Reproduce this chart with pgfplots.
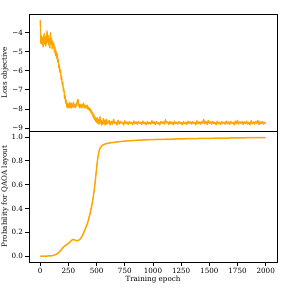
\documentclass[border=0pt]{standalone}
\usepackage{pgfplots}
\pgfplotsset{compat=1.18}
\usepackage{fontspec}
\setmainfont{DejaVu Serif}
\definecolor{mplorange}{HTML}{FFA500}
\begin{document}
\fontsize{7}{8.4}\selectfont
\begin{tikzpicture}
\path[use as bounding box] (-29bp,-29bp) rectangle (262bp,262bp);
\pgfplotsset{
  every axis/.append style={
    scale only axis, width=248bp,
    xmin=-100, xmax=2100,
    axis line style={line width=0.7pt},
    tick style={line width=0.7pt, black},
    major tick length=3.5bp,
    tick align=outside,
    xtick pos=bottom, ytick pos=left,
    /pgf/number format/assume math mode=true,
    tick label style={font=\fontsize{7.2}{8.6}\selectfont},
    label style={font=\fontsize{7.2}{8.6}\selectfont},
  }
}
% top axis
\begin{axis}[
  at={(0,131bp)}, anchor=south west,
  height=116.4bp,
  ymin=-9.16, ymax=-3.05,
  xtick=\empty,
  ytick={-9,-8,-7,-6,-5,-4},
  yticklabels={−9,−8,−7,−6,−5,−4},
  ylabel={Loss objective},
  ylabel style={at={(axis description cs:0,0.5)}, anchor=south, yshift=18bp},
]
\addplot[mplorange, line width=1.3pt, line join=round] coordinates {
(0,-3.33)(2,-3.9)(5,-4.55)(10,-4.15)(15,-4.6)(20,-4.25)(25,-4.75)(30,-4.3)(35,-4.05)(40,-4.6)
(45,-4.2)(50,-4.7)(55,-4.35)(60,-3.9)(65,-4.5)(70,-4.15)(75,-4.65)(80,-4.3)(85,-4.8)(90,-4.0)
(95,-4.55)(100,-4.3)(105,-4.85)(110,-4.45)(115,-4.7)(120,-4.55)(125,-5.0)(130,-4.75)(135,-5.2)(140,-4.95)
(145,-5.35)(150,-5.1)(155,-5.55)(160,-5.4)(165,-5.85)(170,-5.7)(175,-6.1)(180,-5.95)(185,-6.45)(190,-6.3)
(195,-6.75)(200,-6.6)(205,-7.05)(210,-6.95)(215,-7.45)(220,-7.3)(225,-7.7)(230,-7.55)(235,-7.9)(240,-7.7)
(245,-7.95)(250,-7.75)(255,-7.9)(260,-7.65)(265,-7.95)(270,-7.8)(275,-7.7)(280,-7.95)(285,-7.75)(290,-7.85)
(295,-7.65)(300,-7.9)(305,-7.8)(310,-7.95)(315,-7.75)(320,-7.85)(325,-7.7)(330,-7.55)(335,-7.5)(340,-7.85)
(345,-7.75)(350,-7.95)(355,-7.8)(360,-7.9)(365,-7.75)(370,-7.95)(375,-7.8)(380,-7.85)(385,-7.7)(390,-7.95)
(395,-7.8)(400,-7.9)(405,-7.85)(410,-7.95)(415,-7.8)(420,-8.0)(425,-7.9)(430,-8.05)(435,-7.95)(440,-8.1)
(445,-8.0)(450,-8.2)(455,-8.1)(460,-8.3)(465,-8.2)(470,-8.45)(475,-8.3)(480,-8.55)(485,-8.4)(490,-8.65)
(495,-8.5)(500,-8.7)(505,-8.45)(510,-8.75)(515,-8.55)(520,-8.8)(525,-8.6)(530,-8.4)(535,-8.75)(540,-8.6)
(545,-8.85)(550,-8.65)(555,-8.8)(560,-8.5)(565,-8.75)(570,-8.6)(575,-8.85)(580,-8.7)(585,-8.55)(590,-8.8)
(595,-8.65)(600,-8.75)(610,-8.6)(620,-8.85)(630,-8.65)(640,-8.8)(650,-8.55)(660,-8.75)(670,-8.7)(680,-8.85)
(690,-8.6)(700,-8.8)(710,-8.65)(720,-8.75)(730,-8.7)(740,-8.85)(750,-8.62)(760,-8.78)(770,-8.68)(780,-8.82)
(790,-8.66)(800,-8.76)(810,-8.7)(820,-8.84)(830,-8.64)(840,-8.78)(850,-8.68)(860,-8.8)(870,-8.66)(880,-8.76)
(890,-8.7)(900,-8.82)(910,-8.64)(920,-8.78)(930,-8.7)(940,-8.84)(950,-8.66)(960,-8.78)(970,-8.7)(980,-8.8)
(990,-8.62)(1000,-8.76)(1010,-8.68)(1020,-8.82)(1030,-8.66)(1040,-8.78)(1050,-8.72)(1060,-8.84)(1070,-8.66)(1080,-8.76)
(1090,-8.68)(1100,-8.8)(1110,-8.56)(1120,-8.74)(1130,-8.68)(1140,-8.82)(1150,-8.66)(1160,-8.78)(1170,-8.7)(1180,-8.84)
(1190,-8.64)(1200,-8.78)(1210,-8.7)(1220,-8.8)(1230,-8.66)(1240,-8.76)(1250,-8.7)(1260,-8.84)(1270,-8.66)(1280,-8.78)
(1290,-8.7)(1300,-8.82)(1310,-8.64)(1320,-8.76)(1330,-8.68)(1340,-8.8)(1350,-8.66)(1360,-8.78)(1370,-8.7)(1380,-8.84)
(1390,-8.62)(1400,-8.78)(1410,-8.68)(1420,-8.8)(1430,-8.66)(1440,-8.76)(1450,-8.55)(1460,-8.78)(1470,-8.66)(1480,-8.82)
(1490,-8.6)(1500,-8.76)(1510,-8.68)(1520,-8.8)(1530,-8.66)(1540,-8.78)(1550,-8.7)(1560,-8.84)(1570,-8.64)(1580,-8.78)
(1590,-8.7)(1600,-8.82)(1610,-8.66)(1620,-8.76)(1630,-8.7)(1640,-8.8)(1650,-8.64)(1660,-8.78)(1670,-8.68)(1680,-8.82)
(1690,-8.66)(1700,-8.76)(1710,-8.7)(1720,-8.84)(1730,-8.64)(1740,-8.78)(1750,-8.6)(1760,-8.8)(1770,-8.68)(1780,-8.76)
(1790,-8.66)(1800,-8.82)(1810,-8.68)(1820,-8.78)(1830,-8.64)(1840,-8.8)(1850,-8.7)(1860,-8.84)(1870,-8.62)(1880,-8.78)
(1890,-8.68)(1900,-8.8)(1910,-8.66)(1920,-8.76)(1930,-8.6)(1940,-8.82)(1950,-8.68)(1960,-8.78)(1970,-8.66)(1980,-8.8)
(1990,-8.7)(2000,-8.78)
};
\end{axis}
% bottom axis
\begin{axis}[
  at={(0,0)}, anchor=south west,
  height=131bp,
  ymin=-0.05, ymax=1.05,
  xtick={0,250,500,750,1000,1250,1500,1750,2000},
  xticklabels={0,250,500,750,1000,1250,1500,1750,2000},
  ytick={0,0.2,0.4,0.6,0.8,1.0},
  yticklabels={0.0,0.2,0.4,0.6,0.8,1.0},
  xlabel={Training epoch},
  ylabel={Probability for QAOA layout},
  ylabel style={at={(axis description cs:0,0.5)}, anchor=south, yshift=18bp},
  xlabel style={yshift=2bp},
]
\addplot[mplorange, line width=1.5pt, smooth, tension=0.4] coordinates {
(0,0.0)(50,0.0)(100,0.002)(130,0.01)(150,0.02)(175,0.04)(200,0.07)(225,0.09)(250,0.105)(270,0.125)
(290,0.14)(305,0.135)(325,0.128)(345,0.135)(360,0.15)(380,0.185)(400,0.23)(420,0.28)(440,0.35)(460,0.44)
(475,0.53)(490,0.65)(500,0.74)(510,0.82)(520,0.875)(530,0.905)(545,0.925)(560,0.935)(590,0.945)(630,0.952)
(680,0.958)(750,0.965)(850,0.972)(1000,0.978)(1200,0.983)(1400,0.987)(1600,0.99)(1800,0.993)(2000,0.995)
};
\end{axis}
\end{tikzpicture}
\end{document}
